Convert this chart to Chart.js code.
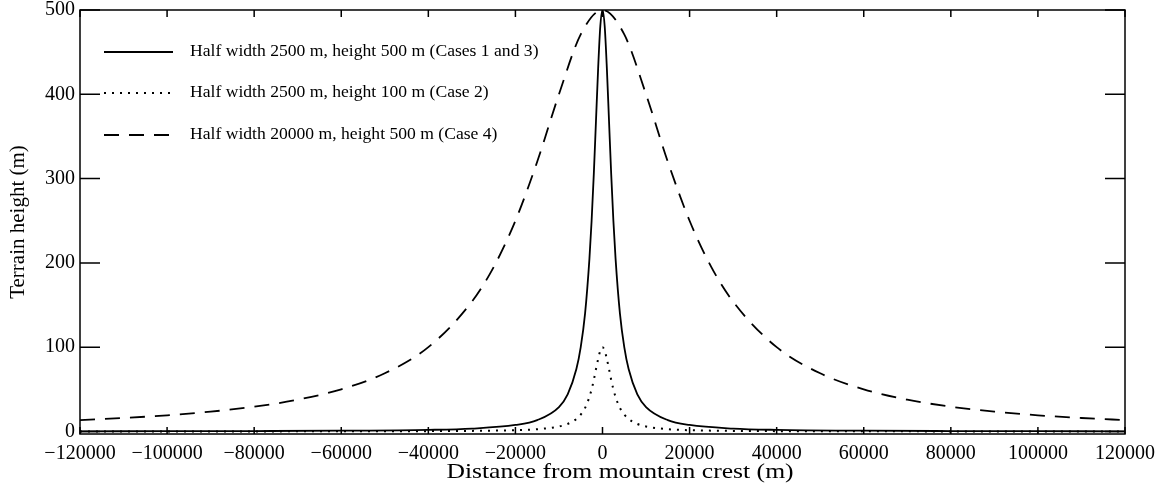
<!DOCTYPE html>
<html>
<head>
<meta charset="utf-8">
<script src="https://cdn.jsdelivr.net/npm/chart.js@4.4.0/dist/chart.umd.min.js"></script>
<style>
  html, body { margin: 0; padding: 0; background: #fff; }
  #wrap { width: 1157px; height: 487px; }
</style>
</head>
<body>
<div id="wrap"><canvas id="terrain-chart"></canvas></div>
<script>
// Distances (m) for the narrow ridges (half width 2500 m)
const narrowX = [-120000, -100000, -80000, -60000, -40000, -30000, -20000, -15000, -10000, -8000,
    -6000, -5000, -4000, -3000, -2500, -2000, -1500, -1000, -500, 0,
    500, 1000, 1500, 2000, 2500, 3000, 4000, 5000, 6000, 8000,
    10000, 15000, 20000, 30000, 40000, 60000, 80000, 100000, 120000];
// Distances (m) for the wide ridge (half width 20000 m)
const wideX = [-120000, -110000, -100000, -90000, -80000, -70000, -60000, -50000, -40000, -30000,
    -25000, -20000, -15000, -10000, -5000, 0, 5000, 10000, 15000, 20000,
    25000, 30000, 40000, 50000, 60000, 70000, 80000, 90000, 100000, 110000, 120000];

// Heights (m)
const case13 = [0.2, 0.3, 0.5, 0.9, 1.9, 3.4, 7.7, 13.5, 29, 44,
    74, 100, 140, 205, 250, 305, 368, 431, 481, 500,
    481, 431, 368, 305, 250, 205, 140, 100, 74, 44,
    29, 13.5, 7.7, 3.4, 1.9, 0.9, 0.5, 0.3, 0.2];
const case2 = [0.04, 0.06, 0.1, 0.17, 0.4, 0.7, 1.5, 2.7, 5.9, 8.9,
    14.8, 20, 28, 41, 50, 61, 74, 86, 96, 100,
    96, 86, 74, 61, 50, 41, 28, 20, 14.8, 8.9,
    5.9, 2.7, 1.5, 0.7, 0.4, 0.17, 0.1, 0.06, 0.04];
const case4 = [13.5, 16, 19.2, 23.5, 29.4, 37.7, 50, 69, 100, 154,
    195, 250, 320, 400, 471, 500, 471, 400, 320, 250,
    195, 154, 100, 69, 50, 37.7, 29.4, 23.5, 19.2, 16, 13.5];

const labels = [
    'Half width 2500 m, height 500 m (Cases 1 and 3)',
    'Half width 2500 m, height 100 m (Case 2)',
    'Half width 20000 m, height 500 m (Case 4)'
];
const xTicks = [-120000, -100000, -80000, -60000, -40000, -20000, 0, 20000, 40000, 60000, 80000, 100000, 120000];
const yTicks = [0, 100, 200, 300, 400, 500];
const xTitle = 'Distance from mountain crest (m)';

const SERIF = '"Liberation Serif", "Times New Roman", serif';

function toPoints(xs, ys) {
    return xs.map((x, i) => ({ x: x, y: ys[i] }));
}

// Texte légèrement étiré en largeur, comme sur la figure d'origine
function drawWideText(ctx, text, x, y, size, stretch, align) {
    ctx.save();
    ctx.font = size + 'px ' + SERIF;
    ctx.fillStyle = '#000';
    ctx.textBaseline = 'middle';
    ctx.textAlign = align;
    ctx.translate(x, y);
    ctx.scale(stretch, 1);
    ctx.fillText(text, 0, 0);
    ctx.restore();
}

// Cadre + graduations vers l'intérieur
const framePlugin = {
    id: 'frame',
    afterDatasetsDraw(chart) {
        const { ctx, chartArea: a, scales } = chart;
        ctx.save();
        ctx.strokeStyle = '#000';
        ctx.lineWidth = 1.5;
        ctx.strokeRect(a.left, a.top, a.right - a.left, a.bottom - a.top);
        ctx.beginPath();
        xTicks.forEach(v => {
            const px = scales.x.getPixelForValue(v);
            ctx.moveTo(px, a.bottom); ctx.lineTo(px, a.bottom - 7);
            ctx.moveTo(px, a.top); ctx.lineTo(px, a.top + 7);
        });
        yTicks.forEach(v => {
            const py = scales.y.getPixelForValue(v);
            ctx.moveTo(a.left, py); ctx.lineTo(a.left + 20, py);
            ctx.moveTo(a.right, py); ctx.lineTo(a.right - 20, py);
        });
        ctx.stroke();
        ctx.restore();
        // titre de l'axe x
        drawWideText(ctx, xTitle, 620, 472, 21, 1.22, 'center');
    }
};

// Légende dessinée dans la zone du graphique
const legendPlugin = {
    id: 'innerLegend',
    afterDatasetsDraw(chart) {
        const { ctx } = chart;
        const rowsY = [52, 93, 135];
        chart.data.datasets.forEach((ds, i) => {
            const y = rowsY[i];
            ctx.save();
            ctx.strokeStyle = '#000';
            ctx.lineWidth = ds.borderWidth;
            ctx.setLineDash(ds.borderDash || []);
            ctx.beginPath();
            ctx.moveTo(104, y);
            ctx.lineTo(173, y);
            ctx.stroke();
            ctx.restore();
            drawWideText(ctx, ds.label, 190, y, 16, 1.1, 'left');
        });
    }
};

const chart = new Chart(document.getElementById('terrain-chart'), {
    type: 'line',
    data: {
        datasets: [
            { label: labels[0], data: toPoints(narrowX, case13), borderColor: '#000', borderWidth: 1.8, borderDash: [] },
            { label: labels[1], data: toPoints(narrowX, case2), borderColor: '#000', borderWidth: 2, borderDash: [2, 6] },
            { label: labels[2], data: toPoints(wideX, case4), borderColor: '#000', borderWidth: 1.8, borderDash: [15, 10] }
        ]
    },
    options: {
        responsive: true,
        maintainAspectRatio: false,
        animation: false,
        layout: { padding: { top: 10, right: 32, left: 0, bottom: 0 } },
        elements: {
            point: { radius: 0 },
            line: { cubicInterpolationMode: 'monotone', fill: false }
        },
        plugins: { legend: { display: false }, tooltip: { enabled: false } },
        scales: {
            x: {
                type: 'linear',
                min: -120000,
                max: 120000,
                grid: { display: false, drawTicks: false },
                border: { display: false },
                afterBuildTicks: scale => { scale.ticks = xTicks.map(v => ({ value: v })); },
                afterFit: scale => {
                    scale.height = 53;
                    scale.paddingLeft = 0;
                    scale.paddingRight = 0;
                },
                ticks: {
                    color: '#000',
                    padding: 8,
                    maxRotation: 0,
                    autoSkip: false,
                    font: { family: SERIF, size: 20 },
                    callback: v => String(v).replace('-', '\u2212')
                }
            },
            y: {
                min: -3,
                max: 500,
                grid: { display: false, drawTicks: false },
                border: { display: false },
                afterBuildTicks: scale => { scale.ticks = yTicks.map(v => ({ value: v })); },
                afterFit: scale => {
                    scale.width = 80;
                    scale.paddingTop = 0;
                    scale.paddingBottom = 0;
                },
                ticks: {
                    color: '#000',
                    padding: 5,
                    font: { family: SERIF, size: 20 }
                },
                title: {
                    display: true,
                    text: 'Terrain height (m)',
                    color: '#000',
                    font: { family: SERIF, size: 21 },
                    padding: { top: 6, bottom: 0 }
                }
            }
        }
    },
    plugins: [framePlugin, legendPlugin]
});
</script>
</body>
</html>
